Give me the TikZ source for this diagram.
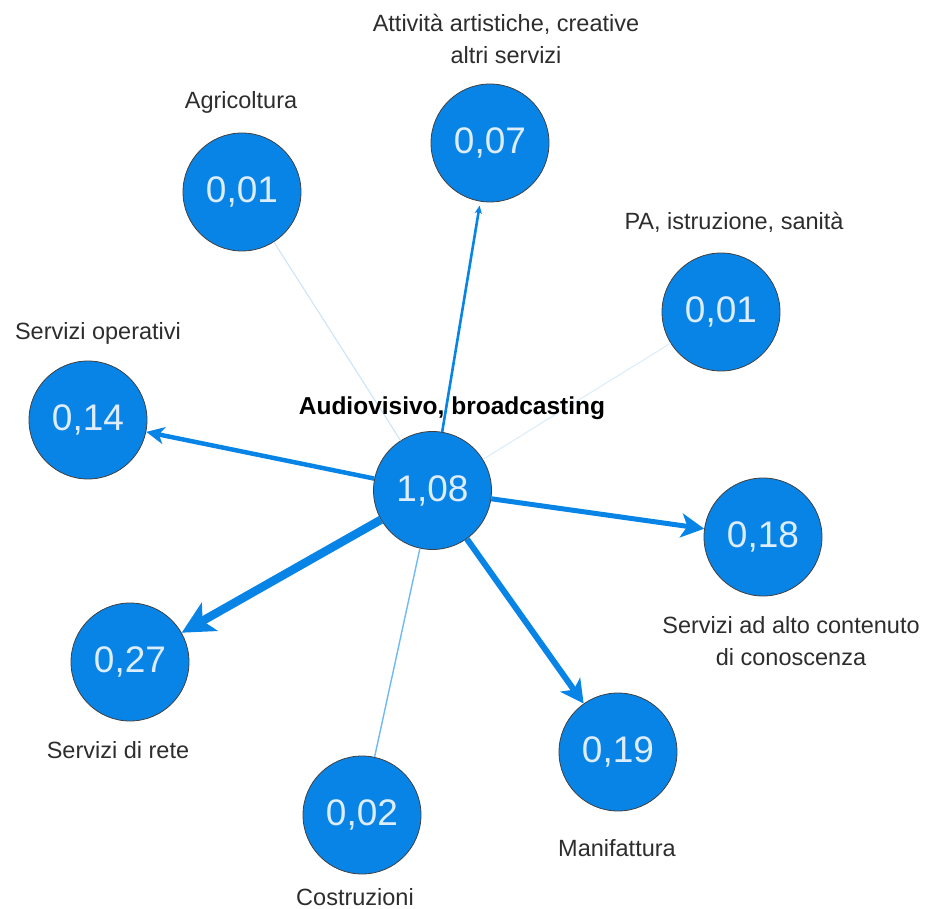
\documentclass[tikz,border=0pt]{standalone}
\usepackage{fontspec}
\setmainfont{Liberation Sans}
\usetikzlibrary{arrows.meta}
\definecolor{nodeblue}{RGB}{8,132,230}
\definecolor{numcol}{RGB}{222,237,252}
\definecolor{labcol}{RGB}{45,45,45}
\definecolor{thinblue}{RGB}{110,185,245}
\definecolor{paleblue}{RGB}{205,228,248}
\definecolor{palerblue}{RGB}{218,236,251}
\begin{document}
\begin{tikzpicture}[x=1pt,y=-1pt,
  bubble/.style={circle, fill=nodeblue, draw=black!75, line width=0.8pt, minimum size=118pt, inner sep=0pt, text=numcol, font=\fontsize{37}{40}\selectfont},
  lab/.style={text=labcol, font=\fontsize{23.5}{32}\selectfont, align=center, inner sep=0pt},
  flow/.style={draw=nodeblue}
]
\useasboundingbox (0,0) rectangle (930,909);
% nodes
\node[bubble] (C) at (432.5,490.5) {1,08};
\node[bubble] (A07) at (490,143) {0,07};
\node[bubble] (AGR) at (242,192) {0,01};
\node[bubble] (PA) at (721,312) {0,01};
\node[bubble] (OP) at (88,420) {0,14};
\node[bubble] (K18) at (763,537) {0,18};
\node[bubble] (R27) at (130,662) {0,27};
\node[bubble] (M19) at (618,752) {0,19};
\node[bubble] (CO) at (362,815) {0,02};
% edges
\draw[paleblue, line width=1.1pt] (C) -- (AGR);
\draw[palerblue, line width=1pt] (C) -- (PA);
\draw[thinblue, line width=1.4pt] (C) -- (CO);
\draw[flow, line width=2.6pt, shorten >=4pt, -{Stealth[length=8pt, width=7pt, inset=2pt]}] (C) -- (A07);
\draw[flow, line width=4.5pt, -{Stealth[length=18pt, width=17pt, inset=5pt]}] (C) -- (OP);
\draw[flow, line width=5pt, -{Stealth[length=23pt, width=24pt, inset=6pt]}] (C) -- (K18);
\draw[flow, line width=6pt, -{Stealth[length=23pt, width=24pt, inset=6pt]}] (C) -- (M19);
\draw[flow, line width=8.5pt, -{Stealth[length=32pt, width=32pt, inset=8pt]}] (C) -- (R27);
% labels
\node[lab] (lA07) at (506,39) {Attività artistiche, creative\\altri servizi};
\node[lab] (lAGR) at (241,102) {Agricoltura};
\node[lab] (lPA) at (734,222) {PA, istruzione, sanità};
\node[lab] (lOP) at (98,333) {Servizi operativi};
\node[lab, text=black, font=\bfseries\fontsize{24.5}{28}\selectfont] (lC) at (452,408) {Audiovisivo, broadcasting};
\node[lab] (lK18) at (791,641) {Servizi ad alto contenuto\\di conoscenza};
\node[lab] (lR27) at (118,750) {Servizi di rete};
\node[lab] (lM19) at (617,848) {Manifattura};
\node[lab] (lCO) at (355,897) {Costruzioni};
\end{tikzpicture}
\end{document}
